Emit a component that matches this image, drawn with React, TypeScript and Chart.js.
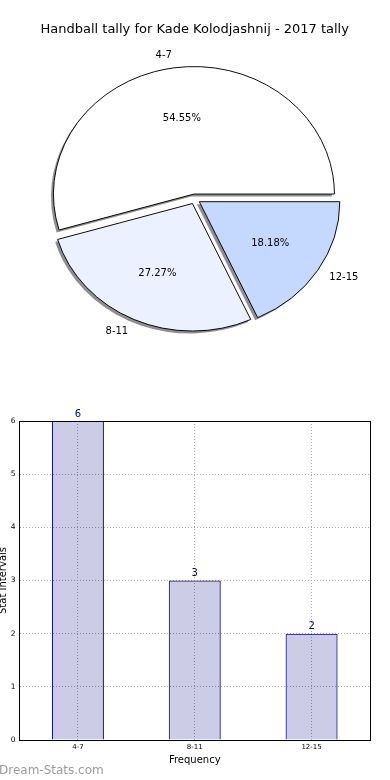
import React, { useEffect, useRef } from 'react';
import { Chart, registerables } from 'chart.js';

Chart.register(...registerables);

// ---- data ----
const TITLE = 'Handball tally for Kade Kolodjashnij - 2017 tally';
const categories = ['4-7', '8-11', '12-15'];
const values = [6, 3, 2];
const pieColors = ['#ffffff', '#ebf1fe', '#c5d9fe'];
const yMin = 0;
const yMax = 6;
const yStep = 1;
const xAxisTitle = 'Frequency';
const yAxisTitle = 'Stat Intervals';
const watermark = 'Dream-Stats.com';

// ---- style ----
const FONT = '"DejaVu Sans", "Liberation Sans", sans-serif';
const SQUASH = 127.5 / 140.5;
const EXPLODE = 5.5;
const SHADOW = 2.5;
const SHADOW_COLOR = '#8f8f8f';
const NAVY = '#000080';

Chart.defaults.font.family = FONT;

const explodedPiePlugin = {
  id: 'explodedPie',
  beforeDatasetsDraw(chart: any) {
    const ctx = chart.ctx as CanvasRenderingContext2D;
    const arcs = chart.getDatasetMeta(0).data as any[];
    if (!arcs.length) return;
    const cx = arcs[0].x;
    const cy = arcs[0].y;
    // shadows
    ctx.save();
    ctx.translate(-SHADOW, SHADOW);
    ctx.translate(cx, cy);
    ctx.scale(1, SQUASH);
    ctx.translate(-cx, -cy);
    ctx.fillStyle = SHADOW_COLOR;
    arcs.forEach((a) => {
      const m = (a.startAngle + a.endAngle) / 2;
      const ox = a.x + Math.cos(m) * EXPLODE;
      const oy = a.y + Math.sin(m) * EXPLODE;
      ctx.beginPath();
      ctx.moveTo(ox, oy);
      ctx.arc(ox, oy, a.outerRadius, a.startAngle, a.endAngle);
      ctx.closePath();
      ctx.fill();
    });
    ctx.restore();
    // slices
    ctx.save();
    ctx.translate(cx, cy);
    ctx.scale(1, SQUASH);
    ctx.translate(-cx, -cy);
    arcs.forEach((a) => {
      const m = (a.startAngle + a.endAngle) / 2;
      ctx.save();
      ctx.translate(Math.cos(m) * EXPLODE, Math.sin(m) * EXPLODE);
      a.draw(ctx);
      ctx.restore();
    });
    ctx.restore();
    return false;
  },
  afterDraw(chart: any) {
    const ctx = chart.ctx as CanvasRenderingContext2D;
    const arcs = chart.getDatasetMeta(0).data as any[];
    const labels = chart.data.labels as string[];
    const data = chart.data.datasets[0].data as number[];
    const total = data.reduce((s, v) => s + v, 0);
    ctx.save();
    ctx.font = `10px ${FONT}`;
    ctx.fillStyle = '#000';
    ctx.textBaseline = 'middle';
    arcs.forEach((a, i) => {
      const m = (a.startAngle + a.endAngle) / 2;
      const c = Math.cos(m);
      const s = Math.sin(m);
      const ex = a.x + c * EXPLODE;
      const ey = a.y + s * EXPLODE * SQUASH;
      const R = a.outerRadius;
      ctx.textAlign = c > 0 ? 'left' : 'right';
      ctx.fillText(labels[i], ex + 1.1 * R * c, ey + 1.1 * R * s * SQUASH);
      ctx.textAlign = 'center';
      const pct = ((data[i] / total) * 100).toFixed(2) + '%';
      ctx.fillText(pct, ex + 0.6 * R * c, ey + 0.6 * R * s * SQUASH);
    });
    ctx.restore();
  },
};

const barDecorPlugin = {
  id: 'barDecor',
  afterDatasetsDraw(chart: any) {
    const ctx = chart.ctx as CanvasRenderingContext2D;
    const { left, right, top, bottom } = chart.chartArea;
    ctx.save();
    ctx.strokeStyle = '#000';
    ctx.lineWidth = 1;
    ctx.strokeRect(Math.round(left) - 0.5, Math.round(top) + 0.5, Math.round(right) - Math.round(left) + 1, Math.round(bottom) - Math.round(top));
    // value labels
    const bars = chart.getDatasetMeta(0).data as any[];
    const data = chart.data.datasets[0].data as number[];
    ctx.font = `10px ${FONT}`;
    ctx.fillStyle = NAVY;
    ctx.textAlign = 'center';
    ctx.textBaseline = 'alphabetic';
    bars.forEach((b, i) => {
      ctx.fillText(String(data[i]), b.x, b.y - 4.5);
    });
    ctx.restore();
  },
};

export default function App() {
  const pieRef = useRef<HTMLCanvasElement>(null);
  const barRef = useRef<HTMLCanvasElement>(null);

  useEffect(() => {
    document.body.style.margin = '0';
    const pie = new Chart(pieRef.current!, {
      type: 'pie',
      data: {
        labels: [...categories].reverse(),
        datasets: [
          {
            data: [...values].reverse(),
            backgroundColor: [...pieColors].reverse(),
            borderColor: '#000',
            borderWidth: 1,
            borderJoinStyle: 'miter',
          } as any,
        ],
      },
      options: {
        responsive: false,
        animation: false,
        devicePixelRatio: 1,
        events: [],
        rotation: 90,
        radius: 140.5,
        layout: { padding: { left: 0, right: 0.6, top: 0, bottom: 9.6 } },
        plugins: {
          legend: { display: false },
          tooltip: { enabled: false },
          title: {
            display: true,
            text: TITLE,
            color: '#000',
            font: { family: FONT, size: 13, weight: 'normal', lineHeight: 1.2 },
            padding: { top: 22, bottom: 0 },
          },
        },
      } as any,
      plugins: [explodedPiePlugin],
    });

    const bar = new Chart(barRef.current!, {
      type: 'bar',
      data: {
        labels: categories,
        datasets: [
          {
            data: values,
            backgroundColor: 'rgba(0,0,128,0.2)',
            borderColor: NAVY,
            borderWidth: 1,
            categoryPercentage: 1,
            barPercentage: 0.445,
          },
        ],
      },
      options: {
        responsive: false,
        animation: false,
        devicePixelRatio: 1,
        events: [],
        layout: { padding: { left: 0, right: 20, top: 51, bottom: 0 } },
        plugins: { legend: { display: false }, tooltip: { enabled: false } },
        scales: {
          x: {
            type: 'category',
            offset: true,
            grid: { offset: false, color: '#a8a8a8', lineWidth: 1, drawTicks: false },
            border: { display: false, dash: [1, 2] },
            ticks: { color: '#000', font: { size: 7 }, padding: 3, maxRotation: 0 },
            title: {
              display: true,
              text: xAxisTitle,
              color: '#000',
              font: { size: 10, lineHeight: 1.2 },
              padding: { top: 0, bottom: 13.7 },
            },
            afterFit: (s: any) => {
              s.height = 40;
            },
          },
          y: {
            min: yMin,
            max: yMax,
            grid: { color: '#a8a8a8', lineWidth: 1, drawTicks: false },
            border: { display: false, dash: [1, 2] },
            ticks: { stepSize: yStep, color: '#000', font: { size: 7.5 }, padding: 4 },
            title: {
              display: true,
              text: yAxisTitle,
              color: '#000',
              font: { size: 10, lineHeight: 1.2 },
              padding: { top: -3, bottom: 0 },
            },
            afterFit: (s: any) => {
              s.width = 19.5;
            },
          },
        },
      } as any,
      plugins: [barDecorPlugin],
    });

    return () => {
      pie.destroy();
      bar.destroy();
    };
  }, []);

  return (
    <div style={{ position: 'relative', width: 390, height: 780, background: '#fff', overflow: 'hidden' }}>
      <canvas ref={pieRef} width={390} height={370} style={{ position: 'absolute', left: 0, top: 0 }} />
      <canvas ref={barRef} width={390} height={410} style={{ position: 'absolute', left: 0, top: 370 }} />
      <div
        style={{
          position: 'absolute',
          left: -1,
          top: 763,
          font: `12px ${FONT}`,
          color: '#9a9a9a',
          whiteSpace: 'nowrap',
        }}
      >
        {watermark}
      </div>
    </div>
  );
}
